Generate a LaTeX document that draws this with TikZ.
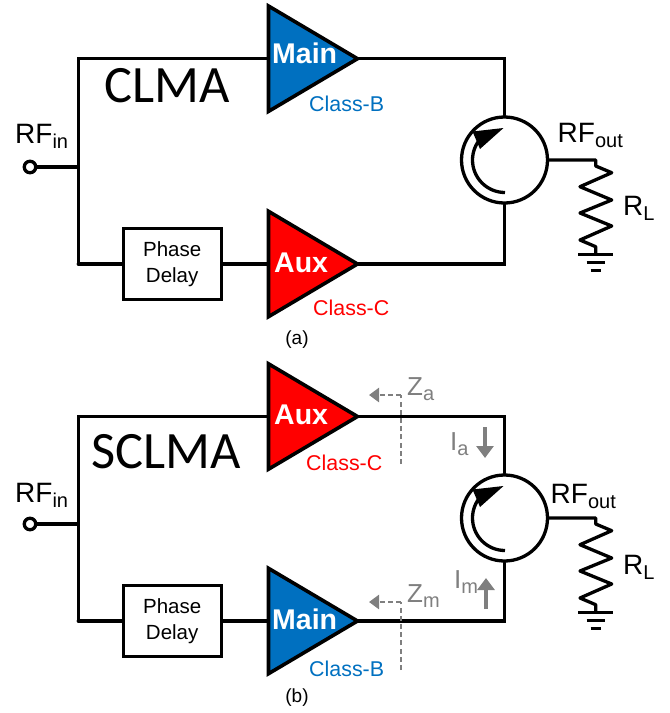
\documentclass[tikz,border=0pt]{standalone}
\usepackage{fontspec}
\setmainfont{Liberation Sans}
\newfontfamily\bigfont{Carlito}
\usetikzlibrary{arrows.meta,calc}
\definecolor{blu}{RGB}{0,112,192}
\definecolor{grayt}{RGB}{127,127,127}
\newcommand{\subtxt}[1]{\raisebox{-5pt}{\fontsize{20}{20}\selectfont #1}}
\begin{document}
\begin{tikzpicture}[x=1pt,y=-1pt,
  wire/.style={line width=3.3pt,line join=miter,line cap=round},
  ampshape/.style={line width=3.6pt,line join=miter},
  pabox/.style={draw,line width=3.3pt,minimum width=98pt,minimum height=71pt,inner sep=0pt,align=center,font=\fontsize{20.5}{26}\selectfont},
  lab/.style={inner sep=0pt,font=\fontsize{28}{30}\selectfont},
  cls/.style={inner sep=0pt,font=\fontsize{21.4}{24}\selectfont},
  amp/.style={inner sep=0pt,text=white,font=\fontsize{28.5}{30}\selectfont\bfseries},
  title/.style={inner sep=0pt,font=\bigfont\fontsize{52.5}{56}\selectfont},
  gtext/.style={inner sep=0pt,text=grayt,font=\fontsize{26}{28}\selectfont},
  gdash/.style={draw=grayt,line width=2.8pt,dash pattern=on 5pt off 3.2pt},
  garrow/.style={draw=grayt,line width=3.2pt,-{Triangle[length=12pt,width=17pt]}},
  port/.style={circle,draw,line width=3.3pt,fill=white,minimum size=11.5pt,inner sep=0pt},
  circ/.style={circle,draw,line width=3.3pt,fill=white,minimum size=86pt,inner sep=0pt},
  gnd/.style={line width=3pt},
  captext/.style={inner sep=0pt,font=\fontsize{19}{21}\selectfont,anchor=base}]
\useasboundingbox (0,0) rectangle (670,713);
% ---- (a)
\node[port] (pa) at (30,167) {};
\coordinate (ja) at (78.3,167);
\coordinate (ta) at (78.3,58.7);
\coordinate (ba) at (78.3,264);
\node[pabox] (da) at (172.2,264) {Phase\\Delay};
\draw[ampshape,fill=blu] (268.5,6) -- (357.5,58.7) -- (268.5,111.4) -- cycle;
\draw[ampshape,fill=red] (268.5,211.3) -- (357.5,264) -- (268.5,316.7) -- cycle;
\coordinate (mia) at (268.5,58.7); \coordinate (moa) at (357.5,58.7);
\coordinate (aia) at (268.5,264); \coordinate (aoa) at (357.5,264);
\node[amp,anchor=base west] (mta) at (272,63) {Main};
\node[amp,anchor=base west] (ata) at (274,272) {Aux};
\node[circ] (ca) at (504.5,160) {};
\draw[wire] (pa) -- (ja);
\draw[wire] (ba) -- (ta) -- (mia);
\draw[wire] (ba) -- (da);
\draw[wire] (da) -- (aia);
\draw[wire] (moa) -| (ca);
\draw[wire] (aoa) -| (ca);
\draw[wire,line join=round] (ca.east) -- (595.7,160) -- (595.7,166) -- (611.7,172.7) -- (580,186.7) -- (611.7,200) -- (580,213) -- (611.7,226) -- (580,240) -- (595.7,246.7) -- (595.7,254) coordinate (ga);
\draw[gnd] ($(ga)+(-17.5,0)$) -- ($(ga)+(17.5,0)$);
\draw[gnd] ($(ga)+(-9,8.5)$) -- ($(ga)+(9,8.5)$);
\draw[gnd] ($(ga)+(-5,16.5)$) -- ($(ga)+(5,16.5)$);
\draw[line width=3.3pt] (505,192.5) arc[start angle=90,end angle=222,radius=32.5];
\fill (503.5,128) -- (472.5,131.5) -- (480,149) -- cycle;
\node[lab,anchor=base west] (rfa) at (15,143) {RF\subtxt{in}};
\node[lab,anchor=base west] (roa) at (557.5,142) {RF\subtxt{out}};
\node[lab,anchor=base west] (rla) at (623,215) {R\subtxt{L}};
\node[cls,text=blu,anchor=base west] (cba) at (309,111) {Class-B};
\node[cls,text=red,anchor=base west] (cca) at (313,315) {Class-C};
\node[title,anchor=base west] (tia) at (104,102) {CLMA};
\node[captext] (sa) at (297,344) {(a)};
% ---- (b)
\node[port] (pb) at (30,524) {};
\coordinate (jb) at (78.3,524);
\coordinate (tb) at (78.3,416.5);
\coordinate (bb) at (78.3,621);
\node[pabox] (db) at (172.2,621) {Phase\\Delay};
\draw[ampshape,fill=red] (268.5,363.8) -- (357.5,416.5) -- (268.5,469.2) -- cycle;
\draw[ampshape,fill=blu] (268.5,568.3) -- (357.5,621) -- (268.5,673.7) -- cycle;
\coordinate (mib) at (268.5,621); \coordinate (mob) at (357.5,621);
\coordinate (aib) at (268.5,416.5); \coordinate (aob) at (357.5,416.5);
\node[amp,anchor=base west] (mtb) at (272,629) {Main};
\node[amp,anchor=base west] (atb) at (274,424) {Aux};
\node[circ] (cb) at (504.5,518) {};
\draw[wire] (pb) -- (jb);
\draw[wire] (bb) -- (tb) -- (aib);
\draw[wire] (bb) -- (db);
\draw[wire] (db) -- (mib);
\draw[wire] (aob) -| (cb);
\draw[wire] (mob) -| (cb);
\draw[wire,line join=round] (cb.east) -- (595.7,518) -- (595.7,524) -- (611.7,530.7) -- (580,544.7) -- (611.7,558) -- (580,571) -- (611.7,584) -- (580,598) -- (595.7,604.7) -- (595.7,612) coordinate (gb);
\draw[gnd] ($(gb)+(-17.5,0)$) -- ($(gb)+(17.5,0)$);
\draw[gnd] ($(gb)+(-9,8.5)$) -- ($(gb)+(9,8.5)$);
\draw[gnd] ($(gb)+(-5,16.5)$) -- ($(gb)+(5,16.5)$);
\draw[line width=3.3pt] (505,550.5) arc[start angle=90,end angle=222,radius=32.5];
\fill (503.5,486) -- (472.5,489.5) -- (480,507) -- cycle;
\node[lab,anchor=base west] (rfb) at (15,502) {RF\subtxt{in}};
\node[lab,anchor=base west] (rob) at (550.5,503) {RF\subtxt{out}};
\node[lab,anchor=base west] (rlb) at (623,574) {R\subtxt{L}};
\node[cls,text=red,anchor=base west] (ccb) at (306,470) {Class-C};
\node[cls,text=blu,anchor=base west] (cbb) at (309,676) {Class-B};
\node[title,anchor=base west] (tib) at (91,468) {SCLMA};
\node[captext] (sb) at (297,702) {(b)};
% gray
\coordinate (za0) at (401,395); \coordinate (za1) at (401,464); \coordinate (za2) at (369,395);
\draw[gdash] (za1) -- (za0);
\draw[gdash,-{Triangle[length=10pt,width=14pt]}] (za0) -- (za2);
\node[gtext,anchor=base west] (zat) at (407,395) {Z\subtxt{a}};
\node[gtext,anchor=base west] (iat) at (450,450) {I\subtxt{a}};
\coordinate (ia0) at (485,427); \coordinate (ia1) at (485,458);
\draw[garrow] (ia0) -- (ia1);
\coordinate (zm0) at (401,602); \coordinate (zm1) at (401,670); \coordinate (zm2) at (369,602);
\draw[gdash] (zm1) -- (zm0);
\draw[gdash,-{Triangle[length=10pt,width=14pt]}] (zm0) -- (zm2);
\node[gtext,anchor=base west] (zmt) at (407,602) {Z\subtxt{m}};
\node[gtext,anchor=base west] (imt) at (454,588) {I\subtxt{m}};
\coordinate (im0) at (486,609); \coordinate (im1) at (486,578);
\draw[garrow] (im0) -- (im1);
\end{tikzpicture}
\end{document}
